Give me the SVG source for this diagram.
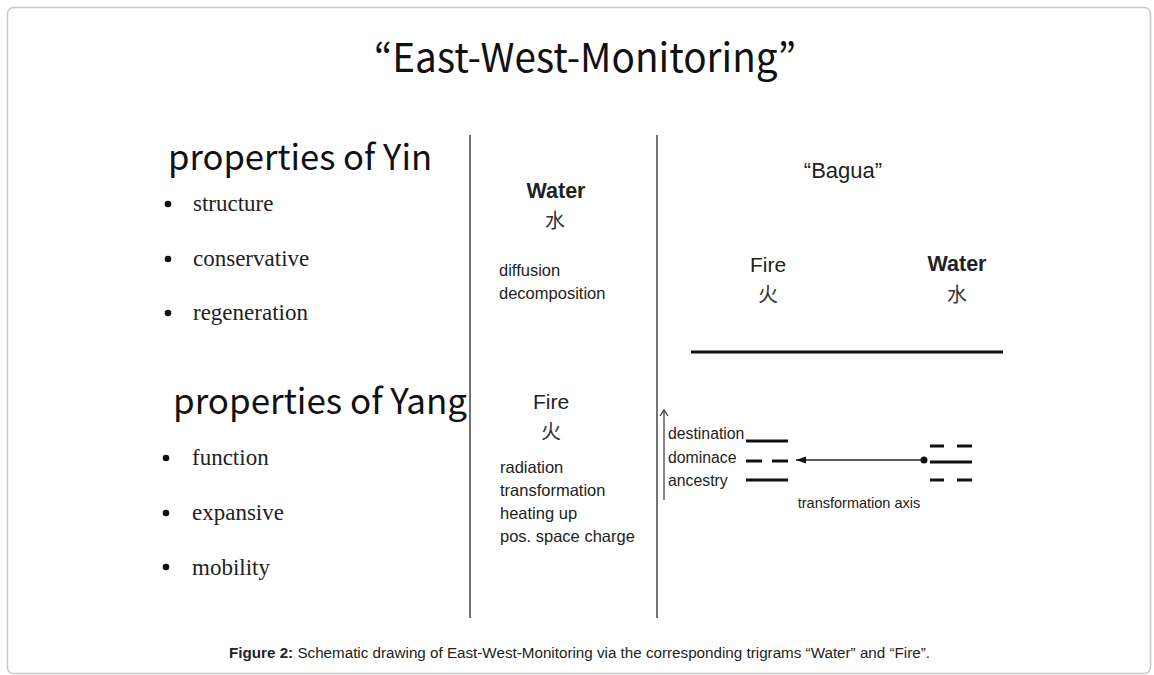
<svg xmlns="http://www.w3.org/2000/svg" width="1154" height="675" viewBox="0 0 1154 675">
<style>
.jp{font-family:"Noto Sans CJK JP","Noto Sans",sans-serif;fill:#111}
.ser{font-family:"Liberation Serif","DejaVu Serif",serif;font-size:23px;fill:#222}
.ar{font-family:"Liberation Sans",Arial,sans-serif;fill:#222}
.cjk{font-family:"Noto Sans CJK SC","Noto Sans CJK JP",sans-serif;fill:#333}
.rule{stroke:#444;stroke-width:1.5}
.tri{stroke:#111;stroke-width:3}
</style>
<defs>
<marker id="open" markerWidth="10" markerHeight="10" refX="9" refY="5" orient="auto" markerUnits="userSpaceOnUse" viewBox="0 0 10 10"><path d="M3,1 L9,5 L3,9" fill="none" stroke="#333" stroke-width="1.2"/></marker>
<marker id="fill" markerWidth="11" markerHeight="8" refX="10" refY="4" orient="auto" markerUnits="userSpaceOnUse" viewBox="0 0 11 8"><path d="M0,0.5 L10,4 L0,7.5 Z" fill="#111"/></marker>
</defs>
<rect x="7.5" y="7.5" width="1143" height="666" rx="6" fill="#fff" stroke="#c8c8c8" stroke-width="1.5"/>
<text class="jp" x="585" y="72" font-size="40" text-anchor="middle" textLength="422" lengthAdjust="spacingAndGlyphs">“East-West-Monitoring”</text>

<g id="yin">
<text class="jp" x="168" y="170" font-size="35" textLength="264" lengthAdjust="spacingAndGlyphs">properties of Yin</text>
<circle cx="168" cy="204" r="3.3" fill="#111"/><text class="ser" x="193" y="211">structure</text>
<circle cx="168" cy="259" r="3.3" fill="#111"/><text class="ser" x="193" y="266">conservative</text>
<circle cx="168" cy="313" r="3.3" fill="#111"/><text class="ser" x="193" y="320">regeneration</text>
</g>
<g id="yang">
<text class="jp" x="173" y="414" font-size="35" textLength="294" lengthAdjust="spacingAndGlyphs">properties of Yang</text>
<circle cx="166" cy="458" r="3.3" fill="#111"/><text class="ser" x="192" y="465">function</text>
<circle cx="166" cy="513" r="3.3" fill="#111"/><text class="ser" x="192" y="520">expansive</text>
<circle cx="166" cy="567" r="3.3" fill="#111"/><text class="ser" x="192" y="575">mobility</text>
</g>

<g id="dividers">
<line class="rule" x1="470" y1="135" x2="470" y2="618"/>
<line class="rule" x1="657" y1="135" x2="657" y2="618"/>
</g>

<g id="mid-water">
<text class="ar" x="556" y="198" font-size="21.5" font-weight="bold" text-anchor="middle" fill="#111">Water</text>
<text class="cjk" x="555" y="228" font-size="20" text-anchor="middle">水</text>
<text class="ar" x="499" y="276" font-size="16.5">diffusion</text>
<text class="ar" x="499" y="299" font-size="16.5">decomposition</text>
</g>
<g id="mid-fire">
<text class="ar" x="551" y="409" font-size="21" text-anchor="middle">Fire</text>
<text class="cjk" x="551" y="439" font-size="20" text-anchor="middle">火</text>
<text class="ar" x="500" y="473" font-size="16.5">radiation</text>
<text class="ar" x="500" y="496" font-size="16.5">transformation</text>
<text class="ar" x="500" y="519" font-size="16.5">heating up</text>
<text class="ar" x="500" y="542" font-size="16.5">pos. space charge</text>
</g>

<g id="bagua">
<text class="ar" x="843" y="178" font-size="22" text-anchor="middle">“Bagua”</text>
<text class="ar" x="768" y="272" font-size="21" text-anchor="middle">Fire</text>
<text class="cjk" x="768" y="302" font-size="20" text-anchor="middle">火</text>
<text class="ar" x="957" y="271" font-size="21.5" font-weight="bold" text-anchor="middle" fill="#111">Water</text>
<text class="cjk" x="957" y="302" font-size="20" text-anchor="middle">水</text>
<line x1="691" y1="352" x2="1003" y2="352" stroke="#111" stroke-width="3"/>
</g>

<g id="fire-trigram">
<text class="ar" x="668" y="439" font-size="15.8">destination</text>
<text class="ar" x="668" y="463" font-size="15.8">dominace</text>
<text class="ar" x="668" y="486" font-size="15.8">ancestry</text>
<line class="tri" x1="746" y1="441" x2="788" y2="441"/>
<line class="tri" x1="746" y1="461" x2="762" y2="461"/>
<line class="tri" x1="772" y1="461" x2="788" y2="461"/>
<line class="tri" x1="746" y1="480" x2="788" y2="480"/>
</g>
<g id="water-trigram">
<line class="tri" x1="930" y1="446" x2="944" y2="446"/>
<line class="tri" x1="957" y1="446" x2="972" y2="446"/>
<line class="tri" x1="930" y1="462" x2="972" y2="462"/>
<line class="tri" x1="930" y1="480" x2="944" y2="480"/>
<line class="tri" x1="957" y1="480" x2="972" y2="480"/>
</g>

<g id="connectors">
<line x1="664" y1="500" x2="664" y2="410" stroke="#444" stroke-width="1.3" marker-end="url(#open)"/>
<line x1="924" y1="460" x2="796" y2="460" stroke="#222" stroke-width="1.3" marker-end="url(#fill)"/>
<circle cx="924" cy="460" r="3.5" fill="#111"/>
</g>
<text class="ar" x="859" y="508" font-size="14.5" text-anchor="middle">transformation axis</text>

<text class="ar" x="229" y="658" font-size="14" fill="#111" textLength="701" lengthAdjust="spacingAndGlyphs"><tspan font-weight="bold">Figure 2:</tspan> Schematic drawing of East-West-Monitoring via the corresponding trigrams “Water” and “Fire”.</text>
</svg>
